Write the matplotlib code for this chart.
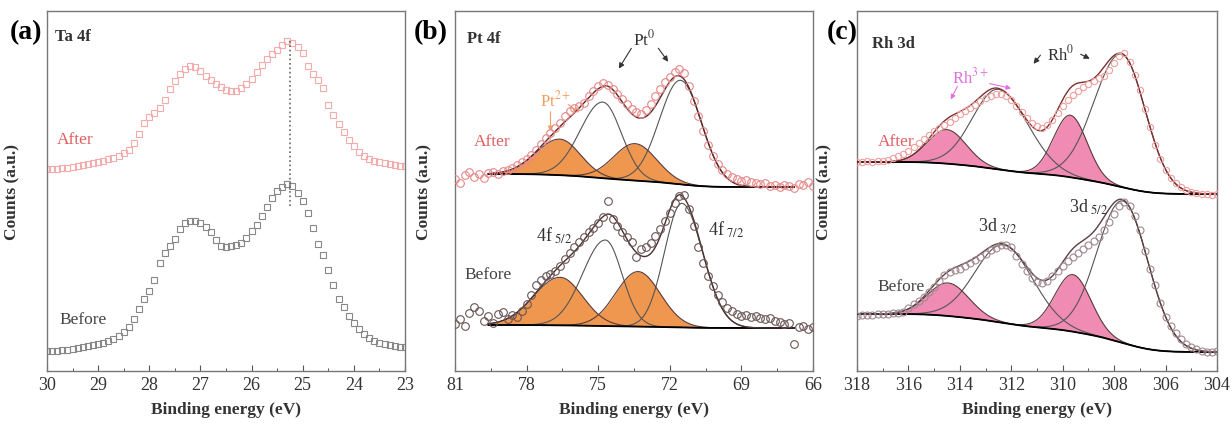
import numpy as np
from matplotlib import pyplot as plt
from matplotlib.ticker import MultipleLocator

plt.rcParams['font.family'] = ['Liberation Serif', 'DejaVu Serif']
plt.rcParams['mathtext.fontset'] = 'stix'

# ---- (a) Ta 4f, measured points (0.1 eV step) ----
energy_a = np.round(np.linspace(30.0, 23.0, 71), 2)
ta_after = [202, 202, 202, 203, 203, 204, 205, 206, 207, 208,
            209, 210, 212, 213, 215, 218, 221, 228, 237, 248,
            254, 258, 263, 271, 282, 290, 297, 302, 305, 304,
            300, 295, 291, 287, 284, 281, 280, 280, 283, 287,
            292, 299, 306, 312, 317, 321, 326, 330, 328, 324,
            318, 305, 297, 291, 283, 266, 256, 247, 239, 231,
            225, 219, 215, 212, 210, 209, 208, 207, 206, 205,
            205]
ta_before = [20, 20, 20, 21, 21, 22, 23, 24, 25, 26,
             27, 28, 30, 32, 35, 39, 44, 52, 62, 72,
             80, 91, 108, 118, 125, 132, 142, 148, 150, 150,
             148, 144, 139, 131, 125, 124, 125, 126, 128, 133,
             140, 146, 155, 164, 173, 180, 184, 187, 185, 178,
             170, 158, 143, 127, 116, 101, 86, 72, 64, 55,
             48, 42, 37, 33, 30, 28, 27, 26, 25, 24,
             24]
ta_peak = 25.25

# ---- (b) Pt 4f, measured points (0.2 eV step) ----
energy_b = np.round(np.linspace(81.0, 66.0, 76), 2)
pt_after = [192, 188, 196, 199, 194, 197, 193, 198, 199, 197,
            200, 201, 203, 206, 209, 212, 216, 221, 227, 233,
            238, 243, 248, 255, 260, 263, 265, 268, 275, 280,
            285, 288, 286, 282, 277, 272, 267, 262, 259, 257,
            261, 267, 275, 282, 289, 294, 299, 302, 298, 285,
            270, 255, 240, 226, 215, 207, 201, 197, 194, 192,
            190, 191, 189, 188, 187, 188, 185, 186, 184, 186,
            185, 183, 187, 186, 189, 185]
pt_before = [47, 52, 45, 58, 64, 60, 50, 55, 48, 57,
             59, 52, 56, 54, 60, 67, 76, 86, 91, 95,
             97, 100, 105, 112, 118, 124, 129, 134, 139, 143,
             148, 154, 170, 152, 145, 139, 134, 129, 114, 122,
             124, 128, 135, 142, 150, 158, 168, 175, 176, 162,
             145, 124, 108, 95, 85, 76, 69, 63, 60, 57,
             55, 56, 54, 55, 53, 52, 53, 50, 49, 47,
             48, 27, 44, 45, 42, 44]
# fitted components: Pt0 4f7/2, Pt0 4f5/2, Pt2+ 4f7/2, Pt2+ 4f5/2
# widths given separately for the low- and high-energy side of each peak
pt_centers_after = [71.55, 74.8, 73.45, 76.6]
pt_heights_after = [104, 76, 37, 36]
pt_sig_lo_after = [0.88, 0.78, 0.9, 0.85]
pt_sig_hi_after = [0.88, 0.95, 0.9, 1.0]
pt_bg_after = (184, 197)
pt_centers_before = [71.5, 74.7, 73.33, 76.6]
pt_heights_before = [124, 86, 55, 48]
pt_sig_lo_before = [0.88, 0.7, 0.93, 0.95]
pt_sig_hi_before = [0.72, 0.95, 0.93, 1.1]
pt_bg_before = (43, 46)
pt_oxide = [False, False, True, True]

# ---- (c) Rh 3d, measured points (0.2 eV step) ----
energy_c = np.round(np.linspace(318.0, 304.0, 71), 2)
rh_after = [209, 209, 210, 209, 210, 210, 211, 213, 215, 217,
            220, 224, 228, 232, 236, 240, 243, 246, 249, 253,
            257, 260, 263, 266, 270, 273, 275, 277, 277, 275,
            271, 265, 259, 253, 248, 245, 243, 246, 251, 258,
            265, 271, 276, 280, 284, 287, 290, 293, 295, 301,
            308, 315, 318, 309, 296, 281, 262, 244, 226, 212,
            201, 193, 188, 184, 181, 179, 178, 177, 177, 176,
            177]
rh_before = [55, 56, 56, 56, 57, 57, 57, 58, 58, 59,
             63, 67, 70, 74, 79, 84, 90, 96, 99, 101,
             102, 105, 108, 111, 114, 117, 121, 123, 126, 126,
             124, 115, 107, 100, 93, 89, 88, 90, 95, 100,
             105, 110, 114, 118, 122, 126, 130, 134, 141, 149,
             157, 165, 169, 165, 155, 141, 120, 102, 86, 68,
             54, 45, 38, 32, 27, 24, 22, 20, 19, 19,
             20]
# fitted components: Rh0 3d5/2, Rh0 3d3/2, Rh3+ 3d5/2, Rh3+ 3d3/2
rh_centers_after = [307.7, 312.5, 309.7, 314.5]
rh_heights_after = [133, 80, 62, 34]
rh_sig_lo_after = [0.92, 1.15, 0.65, 0.75]
rh_sig_hi_after = [1.07, 1.0, 0.65, 0.75]
rh_bg_after = (177, 209)
rh_centers_before = [307.65, 312.3, 309.6, 314.45]
rh_heights_before = [142, 78, 57, 33]
rh_sig_lo_before = [0.98, 1.15, 0.7, 0.8]
rh_sig_hi_before = [1.0, 1.1, 0.7, 0.8]
rh_bg_before = (19, 57)
rh_oxide = [False, False, True, True]


def peak(x, c, h, s_lo, s_hi):
    s = np.where(x > c, s_hi, s_lo)
    return h * np.exp(-(x - c) ** 2 / (2 * s ** 2))


def fit_parts(xf, centers, heights, sig_lo, sig_hi, bg_range):
    # components on a Shirley-type background, xf ascending
    comps = [peak(xf, c, h, a, b) for c, h, a, b in zip(centers, heights, sig_lo, sig_hi)]
    total = np.sum(comps, axis=0)
    cum = np.concatenate([[0], np.cumsum((total[1:] + total[:-1]) / 2 * np.diff(xf))])
    lo, hi = bg_range
    bg = lo + (hi - lo) * cum / cum[-1]
    return bg, comps


def draw_fit(ax, xf, centers, heights, sig_lo, sig_hi, bg_range, oxide, fill_color, env_color):
    bg, comps = fit_parts(xf, centers, heights, sig_lo, sig_hi, bg_range)
    for comp, filled in zip(comps, oxide):
        if filled:
            ax.fill_between(xf, bg, bg + comp, color=fill_color, lw=0, zorder=1)
            ax.plot(xf, bg + comp, color='#5a3a3a', lw=0.8, zorder=2)
        else:
            ax.plot(xf, bg + comp, color='#555555', lw=0.8, zorder=2)
    ax.plot(xf, bg, color='k', lw=1.3, zorder=3)
    ax.plot(xf, bg + np.sum(comps, axis=0), color=env_color, lw=1.0, zorder=4)


def style_axis(ax, xlim, major, minor):
    ax.set_xlim(*xlim)
    ax.set_ylim(0, 360)
    ax.set_yticks([])
    ax.xaxis.set_major_locator(MultipleLocator(major))
    ax.xaxis.set_minor_locator(MultipleLocator(minor))
    ax.tick_params(axis='x', which='major', direction='in', length=4, width=0.8,
                   labelsize=13, colors='#555555', labelcolor='#333333', top=False)
    ax.tick_params(axis='x', which='minor', direction='in', length=2.5, width=0.7,
                   colors='#555555', top=False)
    for sp in ax.spines.values():
        sp.set_color('#777777')
        sp.set_linewidth(1.0)
    ax.set_xlabel('Binding energy (eV)', fontsize=12.5, fontweight='bold',
                  color='#333333', labelpad=6)
    ax.set_ylabel('Counts (a.u.)', fontsize=12.5, fontweight='bold', color='#333333')


fig = plt.figure(figsize=(12.32, 4.27), dpi=100)
ax_a = fig.add_axes([47 / 1232, 55 / 427, 358 / 1232, 360 / 427])
ax_b = fig.add_axes([455 / 1232, 55 / 427, 358 / 1232, 360 / 427])
ax_c = fig.add_axes([857 / 1232, 55 / 427, 360 / 1232, 360 / 427])

# ---- panel (a) ----
ax_a.plot(energy_a, ta_after, 's', mfc='none', mec='#f4abab', ms=4.5, mew=0.8)
ax_a.plot(energy_a, ta_before, 's', mfc='none', mec='#888888', ms=4.5, mew=0.8)
ax_a.plot([ta_peak, ta_peak], [165, 330], ':', color='#666666', lw=1.2)
style_axis(ax_a, (30, 23), 1, 0.5)
ax_a.yaxis.set_label_coords(-0.073, 0.5)
ax_a.text(29.85, 335, 'Ta 4f', fontsize=12, fontweight='bold', color='#333333', va='center')
ax_a.text(29.8, 232, 'After', fontsize=12.5, color='#e06060', va='center')
ax_a.text(29.75, 52, 'Before', fontsize=12.5, color='#444444', va='center')

# ---- panel (b) ----
xf_b = np.linspace(66.8, 79.6, 500)
draw_fit(ax_b, xf_b, pt_centers_after, pt_heights_after, pt_sig_lo_after, pt_sig_hi_after,
         pt_bg_after, pt_oxide, '#f0974f', '#5a2626')
draw_fit(ax_b, xf_b, pt_centers_before, pt_heights_before, pt_sig_lo_before, pt_sig_hi_before,
         pt_bg_before, pt_oxide, '#f0974f', '#4a3030')
ax_b.plot(energy_b, pt_after, 'o', mfc='none', mec='#e88888', ms=5.5, mew=0.8, zorder=5)
ax_b.plot(energy_b, pt_before, 'o', mfc='none', mec='#6a5555', ms=5.5, mew=0.8, zorder=5)
style_axis(ax_b, (81, 66), 3, 1.5)
ax_b.yaxis.set_label_coords(-0.064, 0.5)
ax_b.text(80.5, 333, 'Pt 4f', fontsize=12, fontweight='bold', color='#333333', va='center')
ax_b.text(80.2, 230, 'After', fontsize=12.5, color='#e06060', va='center')
ax_b.text(80.6, 97, 'Before', fontsize=12.5, color='#444444', va='center')
ax_b.text(73.05, 333, r'Pt$^{0}$', fontsize=12.5, color='#333333', ha='center', va='center')
ax_b.annotate('', xy=(74.2, 300), xytext=(73.55, 325),
              arrowprops=dict(arrowstyle='-|>', color='#333333', lw=0.8, mutation_scale=8))
ax_b.annotate('', xy=(72.0, 307), xytext=(72.55, 325),
              arrowprops=dict(arrowstyle='-|>', color='#333333', lw=0.8, mutation_scale=8))
ax_b.text(76.8, 272, r'Pt$^{2+}$', fontsize=12, color='#f0a060', ha='center', va='center')
ax_b.annotate('', xy=(77.0, 237), xytext=(77.0, 262),
              arrowprops=dict(arrowstyle='-|>', color='#f0a060', lw=0.8, mutation_scale=7))
ax_b.annotate('', xy=(75.7, 257), xytext=(76.35, 268),
              arrowprops=dict(arrowstyle='-|>', color='#f0a060', lw=0.8, mutation_scale=7))
ax_b.text(77.6, 136, r'4f$_{\ 5/2}$', fontsize=13, color='#333333', va='center')
ax_b.text(70.4, 142, r'4f$_{\ 7/2}$', fontsize=13, color='#333333', va='center')

# ---- panel (c) ----
xf_c = np.linspace(304.0, 318.0, 500)
draw_fit(ax_c, xf_c, rh_centers_after, rh_heights_after, rh_sig_lo_after, rh_sig_hi_after,
         rh_bg_after, rh_oxide, '#f08cb4', '#7a3030')
draw_fit(ax_c, xf_c, rh_centers_before, rh_heights_before, rh_sig_lo_before, rh_sig_hi_before,
         rh_bg_before, rh_oxide, '#f08cb4', '#5a4040')
ax_c.plot(energy_c, rh_after, 'o', mfc='none', mec='#f0a0a0', ms=4.5, mew=0.8, zorder=5)
ax_c.plot(energy_c, rh_before, 'o', mfc='none', mec='#a08890', ms=5, mew=0.8, zorder=5)
style_axis(ax_c, (318, 304), 2, 1)
ax_c.yaxis.set_label_coords(-0.067, 0.5)
ax_c.text(317.4, 328, 'Rh 3d', fontsize=12, fontweight='bold', color='#333333', va='center')
ax_c.text(317.2, 230, 'After', fontsize=12.5, color='#e06060', va='center')
ax_c.text(317.2, 85, 'Before', fontsize=12.5, color='#444444', va='center')
ax_c.text(310.1, 318, r'Rh$^{0}$', fontsize=12, color='#333333', ha='center', va='center')
ax_c.annotate('', xy=(311.2, 305), xytext=(310.8, 318),
              arrowprops=dict(arrowstyle='-|>', color='#333333', lw=0.8, mutation_scale=8))
ax_c.annotate('', xy=(308.85, 311), xytext=(309.4, 318),
              arrowprops=dict(arrowstyle='-|>', color='#333333', lw=0.8, mutation_scale=8))
ax_c.text(313.6, 295, r'Rh$^{3+}$', fontsize=12, color='#e070e0', ha='center', va='center')
ax_c.annotate('', xy=(314.4, 269), xytext=(314.05, 287),
              arrowprops=dict(arrowstyle='-|>', color='#e070e0', lw=0.8, mutation_scale=7))
ax_c.annotate('', xy=(311.9, 282), xytext=(312.95, 288),
              arrowprops=dict(arrowstyle='-|>', color='#e070e0', lw=0.8, mutation_scale=7))
ax_c.text(313.3, 146, r'3d$_{\ 3/2}$', fontsize=13, color='#333333', va='center')
ax_c.text(309.75, 165, r'3d$_{\ 5/2}$', fontsize=13, color='#333333', va='center')

# panel letters
fig.text(26 / 1232, 1 - 33 / 427, '(a)', fontsize=20, fontweight='bold', ha='center', va='center')
fig.text(431 / 1232, 1 - 33 / 427, '(b)', fontsize=20, fontweight='bold', ha='center', va='center')
fig.text(842 / 1232, 1 - 33 / 427, '(c)', fontsize=20, fontweight='bold', ha='center', va='center')

fig.savefig('out.png', dpi=100)
